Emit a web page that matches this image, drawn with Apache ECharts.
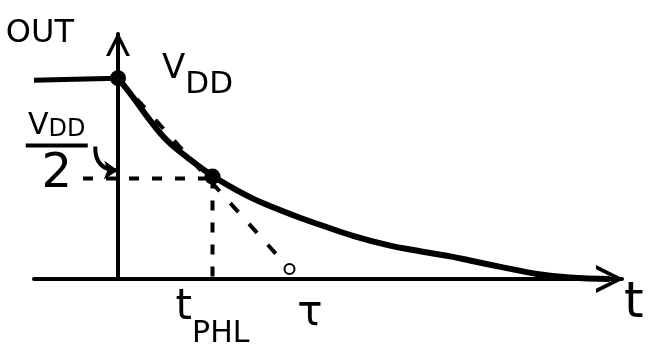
<!DOCTYPE html>
<html>
<head>
<meta charset="utf-8">
<script src="https://cdn.jsdelivr.net/npm/echarts@6/dist/echarts.min.js"></script>
<style>
  html, body { margin: 0; padding: 0; background: #fff; }
  #chart { width: 672px; height: 358px; }
</style>
</head>
<body>
<div id="chart"></div>
<script>
// output voltage (units of VDD) vs time (units of tau)
const leadT = [-0.48, -0.25, 0];
const leadV = [0.99, 0.995, 1];
const curveT = [0, 0.086, 0.183, 0.28, 0.394, 0.543, 0.737, 0.851, 1.04, 1.154, 1.343, 1.537, 1.726, 1.914, 2.011, 2.2, 2.394, 2.583, 2.81];
const curveV = [1, 0.905, 0.79, 0.69, 0.607, 0.512, 0.415, 0.37, 0.305, 0.27, 0.215, 0.17, 0.138, 0.11, 0.092, 0.058, 0.025, 0.007, 0];
const vdd = 1;
const vHalf = 0.5;
const tPHL = 0.54;
const tau = 1.0;
const tangentEnd = [0.98, 0.05];
const fracPos = [-0.35, 0.5];

const ink = '#000';
const font = 'DejaVu Sans';
const chevron = 'path://M0,20 L10,0 L20,20 L17,20 L10,6 L3,20 Z';

const zip = (xs, ys) => xs.map((x, i) => [x, ys[i]]);

var chartDom = document.getElementById('chart');
var myChart = echarts.init(chartDom);

var option = {
  animation: false,
  backgroundColor: '#fff',
  grid: { left: 34, right: 50, top: 34, bottom: 79 },
  xAxis: {
    type: 'value',
    min: -0.48,
    max: 2.88,
    name: 't',
    nameLocation: 'end',
    nameGap: 2,
    nameTextStyle: { color: ink, fontFamily: font, fontSize: 50, align: 'left', verticalAlign: 'top', padding: [0, 0, 0, 0] },
    axisLine: {
      lineStyle: { color: ink, width: 4 },
      symbol: ['none', chevron],
      symbolSize: [36, 28],
      symbolOffset: [0, -12]
    },
    axisTick: { show: false },
    splitLine: { show: false },
    axisLabel: {
      customValues: [tPHL, tau],
      margin: 8,
      color: ink,
      formatter: function (v) {
        return v === tPHL ? '{t|t}{s|PHL}' : '{tau|τ}';
      },
      rich: {
        t: { fontFamily: font, fontSize: 42, lineHeight: 62, verticalAlign: 'top', color: ink },
        s: { fontFamily: font, fontSize: 30, lineHeight: 62, verticalAlign: 'bottom', color: ink },
        tau: { fontFamily: font, fontSize: 42, lineHeight: 50, verticalAlign: 'top', color: ink, padding: [6, 0, 0, 34] }
      }
    }
  },
  yAxis: {
    type: 'value',
    min: 0,
    max: 1.22,
    name: 'OUT',
    nameLocation: 'end',
    nameGap: 0,
    nameTextStyle: { color: ink, fontFamily: font, fontSize: 32, align: 'right', verticalAlign: 'middle', padding: [0, 44, 0, 0] },
    axisLine: {
      onZero: true,
      lineStyle: { color: ink, width: 4 },
      symbol: ['none', chevron],
      symbolSize: [24, 30],
      symbolOffset: [0, -10]
    },
    axisTick: { show: false },
    axisLabel: { show: false },
    splitLine: { show: false }
  },
  series: [
    {
      name: 'before',
      type: 'line',
      data: zip(leadT, leadV),
      showSymbol: false,
      lineStyle: { color: ink, width: 5 }
    },
    {
      name: 'discharge',
      type: 'line',
      data: zip(curveT, curveV),
      smooth: 0.4,
      showSymbol: false,
      lineStyle: { color: ink, width: 6 }
    },
    {
      name: 'half level',
      type: 'line',
      data: [[-0.2, vHalf], [tPHL, vHalf]],
      showSymbol: false,
      lineStyle: { color: ink, width: 4, type: [10, 13] }
    },
    {
      name: 'tPHL drop',
      type: 'line',
      data: [[tPHL, vHalf], [tPHL, 0]],
      showSymbol: false,
      lineStyle: { color: ink, width: 4, type: [10, 12] }
    },
    {
      name: 'tangent',
      type: 'line',
      data: [{ value: [0, vdd], symbol: 'none' }, { value: tangentEnd, symbol: 'emptyCircle', symbolSize: 10 }],
      showSymbol: true,
      itemStyle: { color: ink, borderColor: ink, borderWidth: 3 },
      lineStyle: { color: ink, width: 4, type: [12, 16] }
    },
    {
      name: 'points',
      type: 'scatter',
      symbolSize: 16,
      itemStyle: { color: ink, opacity: 1 },
      data: [
        {
          value: [0, vdd],
          label: {
            show: true,
            position: 'right',
            distance: 36,
            offset: [0, -2],
            formatter: '{v|V}{s|DD}',
            rich: {
              v: { fontFamily: font, fontSize: 34, lineHeight: 48, verticalAlign: 'top', color: ink },
              s: { fontFamily: font, fontSize: 31, lineHeight: 48, verticalAlign: 'bottom', color: ink }
            }
          }
        },
        { value: [tPHL, 0.51] }
      ]
    },
    {
      name: 'fraction',
      type: 'scatter',
      symbolSize: 0,
      itemStyle: { opacity: 1 },
      data: [{
        value: fracPos,
        label: {
          show: true,
          position: 'inside',
          offset: [0, -24],
          align: 'center',
          formatter: '{v|V}{s|DD}\n{bar|}\n{d|2}',
          rich: {
            v: { fontFamily: font, fontSize: 30, lineHeight: 32, verticalAlign: 'bottom', color: ink },
            s: { fontFamily: font, fontSize: 24, lineHeight: 32, verticalAlign: 'bottom', color: ink },
            bar: { width: 62, height: 4, lineHeight: 8, backgroundColor: ink },
            d: { fontFamily: font, fontSize: 48, lineHeight: 50, color: ink }
          }
        }
      }]
    },
    {
      name: 'pointer',
      type: 'lines',
      coordinateSystem: 'cartesian2d',
      symbol: ['none', 'arrow'],
      symbolSize: 14,
      lineStyle: { color: ink, width: 4, opacity: 1, curveness: -0.5 },
      data: [{ coords: [[-0.13, 0.66], [0, 0.54]] }]
    }
  ]
};

myChart.setOption(option);
</script>
</body>
</html>
